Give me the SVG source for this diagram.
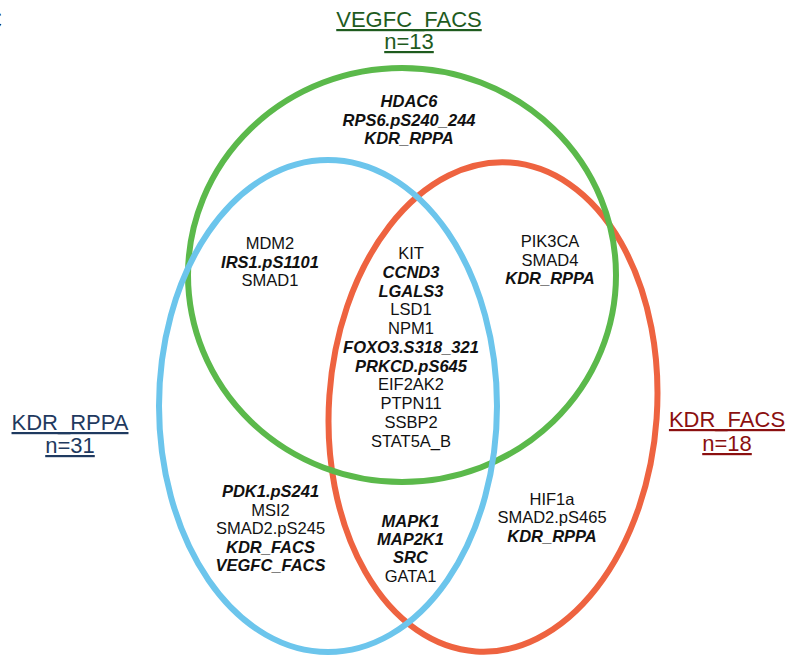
<svg xmlns="http://www.w3.org/2000/svg" width="791" height="656" viewBox="0 0 791 656">
<style>
.set{fill:none;stroke-width:6}
.t{font-family:"Liberation Sans",Arial,sans-serif;font-size:16.5px;fill:#111;text-anchor:middle}
.b{font-weight:bold;font-style:italic}
.title{font-family:"Liberation Sans",Arial,sans-serif;font-size:22px;text-anchor:middle;text-decoration:underline}
</style>
<rect width="791" height="656" fill="#fff"/>
<text x="-16" y="29" font-family="Liberation Sans,Arial,sans-serif" font-size="25" fill="#111">C</text>
<g id="set-kdr-facs">
<ellipse class="set" cx="493" cy="407" rx="164" ry="245" transform="rotate(4 493 407)" stroke="#EE6340"/>
<text class="title" fill="#8B1010"><tspan x="727" y="427">KDR_FACS</tspan><tspan x="727" y="451">n=18</tspan></text>
</g>
<g id="set-vegfc-facs">
<ellipse class="set" cx="402" cy="275" rx="214" ry="207" stroke="#5BB94B"/>
<text class="title" fill="#1E5B1E"><tspan x="409" y="27">VEGFC_FACS</tspan><tspan x="409" y="49">n=13</tspan></text>
</g>
<g id="set-kdr-rppa">
<ellipse class="set" cx="328" cy="406" rx="169" ry="246" stroke="#6CC5EC"/>
<text class="title" fill="#1F3A60"><tspan x="70" y="430">KDR_RPPA</tspan><tspan x="70" y="453">n=31</tspan></text>
</g>
<g id="connectors"/>
<g id="region-vegfc-only" class="t">
<text class="t b" x="409" y="107.3">HDAC6</text>
<text class="t b" x="409" y="126">RPS6.pS240_244</text>
<text class="t b" x="409" y="144">KDR_RPPA</text>
</g>
<g id="region-rppa-vegfc">
<text class="t" x="270" y="249.3">MDM2</text>
<text class="t b" x="270" y="267.7">IRS1.pS1101</text>
<text class="t" x="270" y="286">SMAD1</text>
</g>
<g id="region-vegfc-facs">
<text class="t" x="550" y="247.3">PIK3CA</text>
<text class="t" x="550" y="265.7">SMAD4</text>
<text class="t b" x="550" y="284">KDR_RPPA</text>
</g>
<g id="region-all">
<text class="t" x="411" y="259.3">KIT</text>
<text class="t b" x="411" y="278">CCND3</text>
<text class="t b" x="411" y="296.7">LGALS3</text>
<text class="t" x="411" y="315.4">LSD1</text>
<text class="t" x="411" y="334.1">NPM1</text>
<text class="t b" x="411" y="352.8">FOXO3.S318_321</text>
<text class="t b" x="411" y="371.5">PRKCD.pS645</text>
<text class="t" x="411" y="390.2">EIF2AK2</text>
<text class="t" x="411" y="408.9">PTPN11</text>
<text class="t" x="411" y="427.6">SSBP2</text>
<text class="t" x="411" y="446.5">STAT5A_B</text>
</g>
<g id="region-rppa-only">
<text class="t b" x="270.5" y="497.3">PDK1.pS241</text>
<text class="t" x="270.5" y="515.7">MSI2</text>
<text class="t" x="270.5" y="534.3">SMAD2.pS245</text>
<text class="t b" x="270.5" y="552.7">KDR_FACS</text>
<text class="t b" x="270.5" y="571">VEGFC_FACS</text>
</g>
<g id="region-rppa-facs">
<text class="t b" x="410.5" y="526.7">MAPK1</text>
<text class="t b" x="410.5" y="545">MAP2K1</text>
<text class="t b" x="410.5" y="563.3">SRC</text>
<text class="t" x="410.5" y="581.7">GATA1</text>
</g>
<g id="region-facs-only">
<text class="t" x="552" y="505">HIF1a</text>
<text class="t" x="552" y="523.3">SMAD2.pS465</text>
<text class="t b" x="552" y="541.7">KDR_RPPA</text>
</g>
</svg>
